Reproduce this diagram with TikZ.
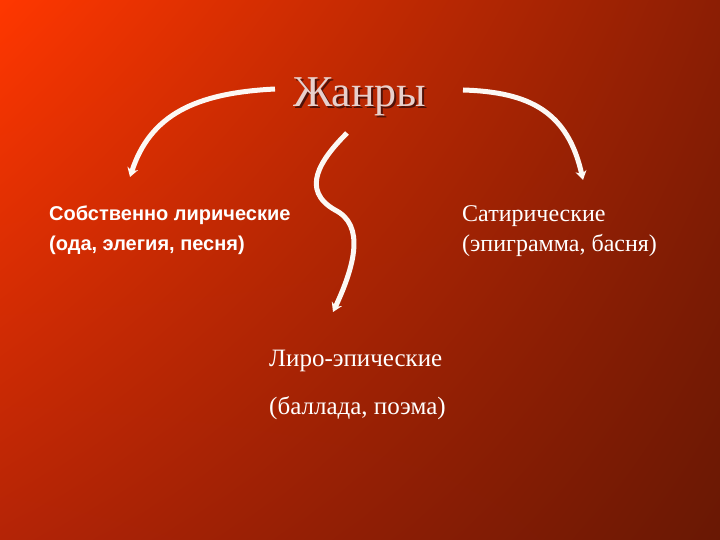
\documentclass[tikz,border=0pt]{standalone}
\usepackage{fontspec}
\setmainfont{Liberation Serif}
\newfontfamily\arialfont{Liberation Sans}
\usetikzlibrary{arrows.meta,shadings}

\definecolor{bgtl}{RGB}{255,55,0}
\definecolor{bgtr}{RGB}{140,30,4}
\definecolor{bgbl}{RGB}{180,36,6}
\definecolor{bgbr}{RGB}{105,24,4}
\definecolor{titlecol}{RGB}{232,208,204}
\definecolor{shadowcol}{RGB}{80,18,8}
\definecolor{flowcol}{RGB}{252,248,244}

\begin{document}
\begin{tikzpicture}[x=1pt, y=-1pt,
      genre/.style={anchor=west, inner sep=0pt, align=left, text=white,
         font=\fontsize{24}{30}\selectfont},
      flow/.style={draw=flowcol, line width=5pt, -{Stealth[length=9pt,width=11pt]}}]
      \useasboundingbox (0,0) rectangle (720,540);
      \shade[upper left=bgtl, upper right=bgtr, lower left=bgbl, lower right=bgbr]
         (0,0) rectangle (720,540);

      % title with its shadow
      \node[text=shadowcol, font=\fontsize{44}{48}\selectfont, name=shadow] at (362,99) {Жанры};
      \node[text=titlecol, font=\fontsize{44}{48}\selectfont, name=title] at (360,97) {Жанры};

      \node[genre, name=lyric, font=\arialfont\bfseries\fontsize{20}{30}\selectfont] at (49,230)
         {Собственно лирические\\(ода, элегия, песня)};
      \node[genre, name=satire] at (462,231) {Сатирические\\(эпиграмма, басня)};
      \node[genre, name=epic, font=\fontsize{25}{48}\selectfont] at (269,385)
         {Лиро-эпические\\(баллада, поэма)};

      \coordinate (l0) at (275,89);
      \coordinate (l1) at (130,177);
      \coordinate (r0) at (463,90);
      \coordinate (r1) at (583,180);
      \coordinate (m0) at (347,133);
      \coordinate (m1) at (335,210);
      \coordinate (m2) at (333,312);

      \draw[flow] (l0) .. controls (195,93) and (150,115) .. (l1);
      \draw[flow] (r0) .. controls (530,92) and (568,112) .. (r1);
      \draw[flow] (m0) .. controls (320,160) and (300,190) .. (m1)
         .. controls (365,225) and (355,265) .. (m2);
   \end{tikzpicture}
\end{document}
